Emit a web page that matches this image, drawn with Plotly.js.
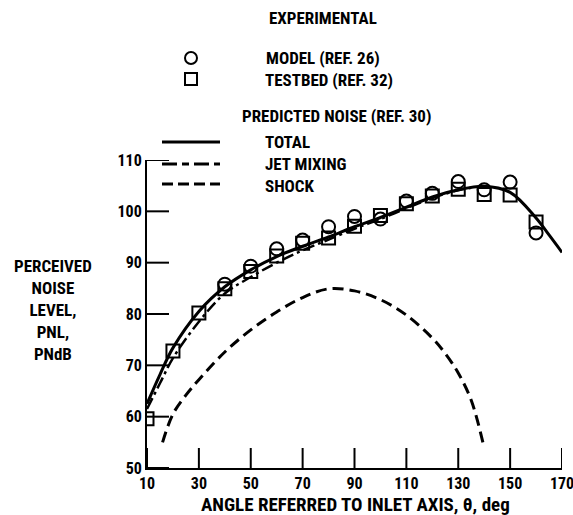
<!DOCTYPE html>
<html>
<head>
<meta charset="utf-8">
<script src="https://cdn.plot.ly/plotly-3.0.1.min.js"></script>
<style>html,body{margin:0;padding:0;background:#fff;}#chart{width:573px;height:515px;}</style>
</head>
<body>
<div id="chart"></div>
<script>
// Experimental data
var modelAngle = [40, 50, 60, 70, 80, 90, 100, 110, 120, 130, 140, 150, 160];
var modelPNL   = [85.8, 89.3, 92.7, 94.4, 97.0, 99.0, 98.5, 102.0, 103.5, 105.8, 104.2, 105.7, 95.8];
var testbedAngle = [10, 20, 30, 40, 50, 60, 70, 80, 90, 100, 110, 120, 130, 140, 150, 160];
var testbedPNL   = [59.6, 72.8, 80.2, 84.9, 88.3, 91.3, 93.8, 94.8, 97.1, 99.2, 101.5, 103.0, 104.3, 103.3, 103.2, 97.9];

// Predicted noise curves
var totalAngle = [10, 15, 20, 30, 40, 50, 60, 70, 80, 90, 100, 110, 120, 130, 140, 150, 160, 165, 170];
var totalPNL   = [62.5, 68.2, 73.4, 80.5, 85.3, 88.6, 91.2, 93.2, 95.0, 97.0, 98.8, 100.8, 102.8, 104.2, 104.9, 103.7, 98.7, 95.4, 92.0];
var jetAngle = [10, 15, 20, 30, 40, 50, 60, 70, 80, 90, 100, 110, 120, 130, 135];
var jetPNL   = [61.5, 66.5, 71.4, 78.5, 84.0, 87.2, 90.0, 92.4, 94.5, 96.6, 98.5, 100.6, 102.6, 104.1, 104.6];
var shockAngle = [16, 20, 25, 30, 40, 50, 60, 70, 80, 90, 100, 110, 120, 125, 130, 135, 139.5];
var shockPNL   = [55.0, 60.5, 64.2, 67.2, 72.6, 76.9, 80.4, 83.2, 84.9, 84.5, 82.8, 79.8, 75.3, 72.3, 68.5, 63.2, 55.0];

// Tick labels
var xTicks = [10, 30, 50, 70, 90, 110, 130, 150, 170];
var yTicks = [50, 60, 70, 80, 90, 100, 110];

var FONT = "'Roboto Condensed', 'DejaVu Sans Condensed', sans-serif";
var font = function(s){ return {family: FONT, size: s, color: '#000', weight: 'bold'}; };

var traces = [
  {x: shockAngle, y: shockPNL, mode: 'lines', line: {color: '#000', width: 3, dash: '11px,6px', shape: 'spline'}},
  {x: jetAngle, y: jetPNL, mode: 'lines', line: {color: '#000', width: 2.5, dash: '12px,4px,3px,4px', shape: 'spline'}},
  {x: totalAngle, y: totalPNL, mode: 'lines', line: {color: '#000', width: 3, shape: 'spline'}},
  {x: testbedAngle, y: testbedPNL, mode: 'markers', marker: {symbol: 'square-open', size: 13, color: '#000', line: {width: 2, color: '#000'}}},
  {x: modelAngle, y: modelPNL, mode: 'markers', marker: {symbol: 'circle-open', size: 13, color: '#000', line: {width: 2, color: '#000'}}}
];

function px2x(p){ return (p - 147) / 415; }
function py2y(p){ return (468 - p) / 308; }

var shapes = [
  {type: 'circle', xref: 'paper', yref: 'paper', xsizemode: 'pixel', ysizemode: 'pixel',
   xanchor: px2x(191), yanchor: py2y(58), x0: -6, x1: 6, y0: -6, y1: 6, line: {color: '#000', width: 2}},
  {type: 'rect', xref: 'paper', yref: 'paper', xsizemode: 'pixel', ysizemode: 'pixel',
   xanchor: px2x(191), yanchor: py2y(79), x0: -6, x1: 6, y0: -6, y1: 6, line: {color: '#000', width: 2}},
  {type: 'line', xref: 'paper', yref: 'paper', x0: px2x(162), x1: px2x(220), y0: py2y(142), y1: py2y(142), line: {color: '#000', width: 3}},
  {type: 'line', xref: 'paper', yref: 'paper', x0: px2x(162), x1: px2x(220), y0: py2y(164), y1: py2y(164), line: {color: '#000', width: 3, dash: '15px,5px,7px,5px'}},
  {type: 'line', xref: 'paper', yref: 'paper', x0: px2x(162), x1: px2x(220), y0: py2y(184), y1: py2y(184), line: {color: '#000', width: 3, dash: '11px,5px'}}
];

// Inward tick marks, placed through the axes' own scales at the tick values
xTicks.forEach(function(v){
  shapes.push({type: 'line', xref: 'x', yref: 'y', x0: v, x1: v, ysizemode: 'pixel', yanchor: yTicks[0], y0: 0, y1: 20,
               line: {color: '#000', width: 2}});
});
yTicks.forEach(function(v){
  shapes.push({type: 'line', xref: 'x', yref: 'y', y0: v, y1: v, xsizemode: 'pixel', xanchor: xTicks[0], x0: 0, x1: 22,
               line: {color: '#000', width: 2}});
});

function lab(text, xp, yp){
  return {text: text, xref: 'paper', yref: 'paper', x: px2x(xp), y: py2y(yp), xanchor: 'left', yanchor: 'middle', showarrow: false, font: font(17)};
}

var annotations = [
  lab('EXPERIMENTAL', 267, 18),
  lab('MODEL (REF. 26)', 264, 58),
  lab('TESTBED (REF. 32)', 263, 80),
  lab('PREDICTED NOISE (REF. 30)', 240, 116),
  lab('TOTAL', 263, 142),
  lab('JET MIXING', 263, 164),
  lab('SHOCK', 263, 186),
  {text: 'PERCEIVED<br>NOISE<br>LEVEL,<br>PNL,<br>PNdB', xref: 'paper', yref: 'paper', x: px2x(53), y: py2y(310), xanchor: 'center', yanchor: 'middle', align: 'center', showarrow: false, font: font(17)},
  {text: 'ANGLE REFERRED TO INLET AXIS, \u03b8, deg', xref: 'paper', yref: 'paper', x: px2x(355), y: py2y(504), xanchor: 'center', yanchor: 'middle', showarrow: false, font: font(19)}
];

var layout = {
  width: 573, height: 515,
  margin: {l: 147, r: 11, t: 160, b: 47, pad: 0},
  showlegend: false,
  xaxis: {range: [10, 170], tickmode: 'array', tickvals: xTicks, ticks: '',
          showline: true, linecolor: '#000', linewidth: 2, showgrid: false, zeroline: false, tickfont: font(16), ticklabeloverflow: 'allow'},
  yaxis: {range: [50, 110], tickmode: 'array', tickvals: yTicks, ticks: '',
          showline: true, linecolor: '#000', linewidth: 2, showgrid: false, zeroline: false, tickfont: font(16)},
  shapes: shapes,
  annotations: annotations
};

Plotly.newPlot('chart', traces, layout, {staticPlot: true});
</script>
</body>
</html>
